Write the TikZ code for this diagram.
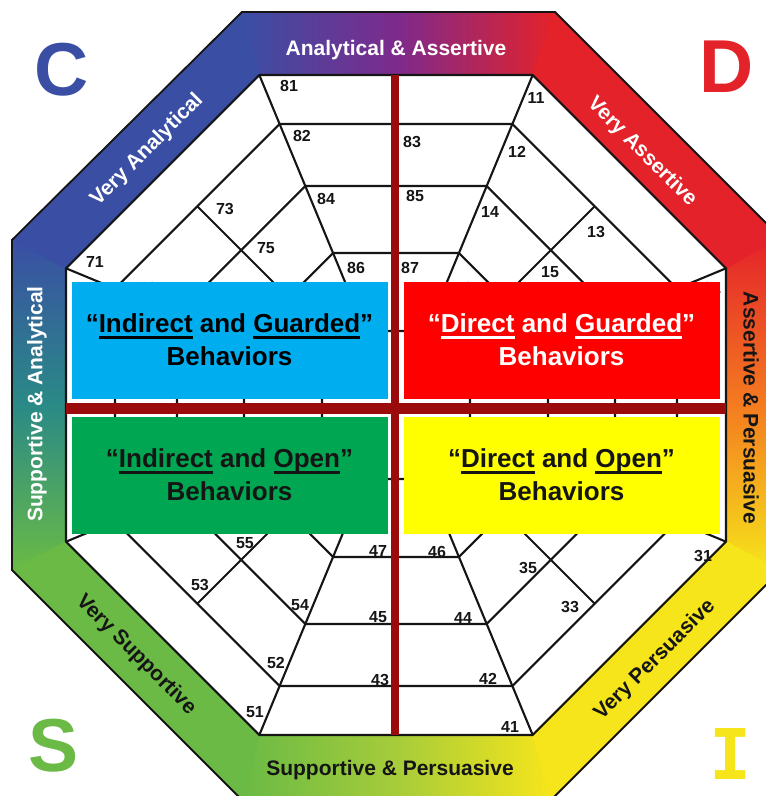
\documentclass[tikz,border=0pt]{standalone}
\usepackage{fontspec}
\setmainfont{Liberation Sans}
\newfontfamily\slabfont{DejaVu Sans Mono}
\usetikzlibrary{calc}

\definecolor{cblue}{HTML}{3A4FA4}
\definecolor{cpurple}{HTML}{7E2A8C}
\definecolor{cred}{HTML}{E4222A}
\definecolor{corange}{HTML}{F47B20}
\definecolor{cyellow}{HTML}{F6E51B}
\definecolor{cgreen}{HTML}{6ABA45}
\definecolor{cteal}{HTML}{2A8A86}
\definecolor{cygreen}{HTML}{A6CC3A}
\definecolor{axisred}{HTML}{9B0B0B}
\definecolor{boxcyan}{HTML}{00AEEF}
\definecolor{boxred}{HTML}{FF0000}
\definecolor{boxgreen}{HTML}{00A651}
\definecolor{boxyellow}{HTML}{FFFF00}
\definecolor{ink}{HTML}{151515}

% underlined word, thick bar under the baseline
\newcommand{\undl}[1]{\sbox0{#1}\rlap{\rule[-6pt]{\wd0}{2.4pt}}\usebox0}

\begin{document}
\begin{tikzpicture}[x=1pt, y=-1pt]
\tikzstyle{lbl}=[font=\bfseries\fontsize{21}{25}\selectfont, inner sep=0pt]
\tikzstyle{num}=[font=\bfseries\fontsize{16}{18}\selectfont, inner sep=0pt, text=ink]
\tikzstyle{quad}=[inner sep=0pt, minimum width=316pt, minimum height=117pt,
                  align=center, font=\bfseries\fontsize{26}{33}\selectfont]
\tikzstyle{webline}=[line width=2.1pt, ink, line join=round]
\tikzstyle{letter}=[font=\bfseries\fontsize{75}{75}\selectfont, inner sep=0pt]

\useasboundingbox (0,0) rectangle (766,796);
\clip (0,0) rectangle (766,796);

% corners of the coloured rim
\coordinate (o1) at (242,12);
\coordinate (o2) at (555,12);
\coordinate (o3) at (780,237);
\coordinate (o4) at (780,571);
\coordinate (o5) at (551,800);
\coordinate (o6) at (242,800);
\coordinate (o7) at (12,570);
\coordinate (o8) at (12,240);
% corners of the white octagon
\coordinate (c) at (396,405);
\foreach \k in {1,...,8}
  \coordinate (i\k) at ($(c)+(202.5+45*\k:357.2)$);

% rim: shaded sides, plain corners
\fill[left color=cblue, right color=cred, middle color=cpurple] (o1) -- (o2) -- (i2) -- (i1) -- cycle;
\fill[top color=cred, bottom color=cyellow, middle color=corange] (o3) -- (o4) -- (i4) -- (i3) -- cycle;
\fill[left color=cgreen, right color=cyellow, middle color=cygreen] (o6) -- (o5) -- (i5) -- (i6) -- cycle;
\fill[top color=cblue, bottom color=cgreen, middle color=cteal] (o8) -- (o7) -- (i7) -- (i8) -- cycle;
\filldraw[cblue, line width=1pt] (o8) -- (o1) -- (i1) -- (i8) -- cycle;
\filldraw[cred, line width=1pt] (o2) -- (o3) -- (i3) -- (i2) -- cycle;
\filldraw[cyellow, line width=1pt] (o4) -- (o5) -- (i5) -- (i4) -- cycle;
\filldraw[cgreen, line width=1pt] (o6) -- (o7) -- (i7) -- (i6) -- cycle;
\draw[line width=1.8pt, ink] (o1) -- (o2) -- (o3) -- (o4) -- (o5) -- (o6) -- (o7) -- (o8) -- cycle;

% the web
\fill[white] (i1) -- (i2) -- (i3) -- (i4) -- (i5) -- (i6) -- (i7) -- (i8) -- cycle;
\foreach \a in {330,281,219,152,74} {
  \pgfmathsetmacro{\r}{\a*1.08239}
  \draw[webline, shift={(c)}] (22.5:\r) -- (67.5:\r) -- (112.5:\r) -- (157.5:\r)
    -- (202.5:\r) -- (247.5:\r) -- (292.5:\r) -- (337.5:\r) -- cycle;
}
\foreach \t in {22.5,67.5,...,337.5}
  \draw[webline] ($(c)+(\t:80.1)$) -- ++(\t:277.1);
\foreach \t in {0,45,...,315}
  \draw[webline] ($(c)+(\t:74)$) -- ++(\t:207);

\foreach \n/\x/\y in {81/289/86, 82/302/136, 83/412/142, 84/326/199, 85/415/196,
    86/356/268, 87/410/268, 11/536/98, 12/517/152, 13/596/232, 14/490/212,
    15/550/272, 16/463/288, 21/712/288, 71/95/262, 72/148/288, 73/225/209,
    75/266/248, 31/703/556, 32/646/528, 33/570/607, 35/528/568,
    41/510/727, 42/488/679, 43/380/680, 44/463/618, 45/378/617, 46/437/552,
    47/378/551, 51/255/712, 52/276/663, 53/200/585, 54/300/605, 55/245/543,
    56/331/528}
  \node[num] (n\n) at (\x,\y) {\n};

% axes and the four quadrants
\fill[axisred] (391,75) rectangle (399,735);
\fill[axisred] (66,403) rectangle (726,414);
\node[quad, fill=boxcyan] (indguard) at (229.5,340)
  {“\undl{Indirect} and \undl{Guarded}”\\Behaviors};
\node[quad, fill=boxred, text=white] (dirguard) at (561.5,340)
  {“\undl{Direct} and \undl{Guarded}”\\Behaviors};
\node[quad, fill=boxgreen, text=ink] (indopen) at (229.5,475)
  {“\undl{Indirect} and \undl{Open}”\\Behaviors};
\node[quad, fill=boxyellow, text=ink] (diropen) at (561.5,475)
  {“\undl{Direct} and \undl{Open}”\\Behaviors};

% rim labels
\node[lbl, text=white, anchor=base] (analass) at (396,55) {Analytical \& Assertive};
\node[lbl, text=ink, anchor=base] (suppers) at (390,775) {Supportive \& Persuasive};
\node[lbl, text=white, rotate=45] (veryanal) at (147,150) {Very Analytical};
\node[lbl, text=white, rotate=-45] (veryass) at (642,152) {Very Assertive};
\node[lbl, text=white, rotate=90] (suppanal) at (37,404) {Supportive \& Analytical};
\node[lbl, text=ink, rotate=-90] (assper) at (751,408) {Assertive \& Persuasive};
\node[lbl, text=ink, rotate=-45] (verysupp) at (136,655) {Very Supportive};
\node[lbl, text=ink, rotate=45] (verypers) at (655,660) {Very Persuasive};

% corner letters
\node[letter, text=cblue] (letc) at (62,70) {C};
\node[letter, text=cred] (letd) at (727,67) {D};
\node[letter, text=cgreen] (lets) at (54,746) {S};
\node[letter, text=cyellow, font=\slabfont\bfseries\fontsize{70}{70}\selectfont] (leti) at (731,754) {I};
\end{tikzpicture}
\end{document}
